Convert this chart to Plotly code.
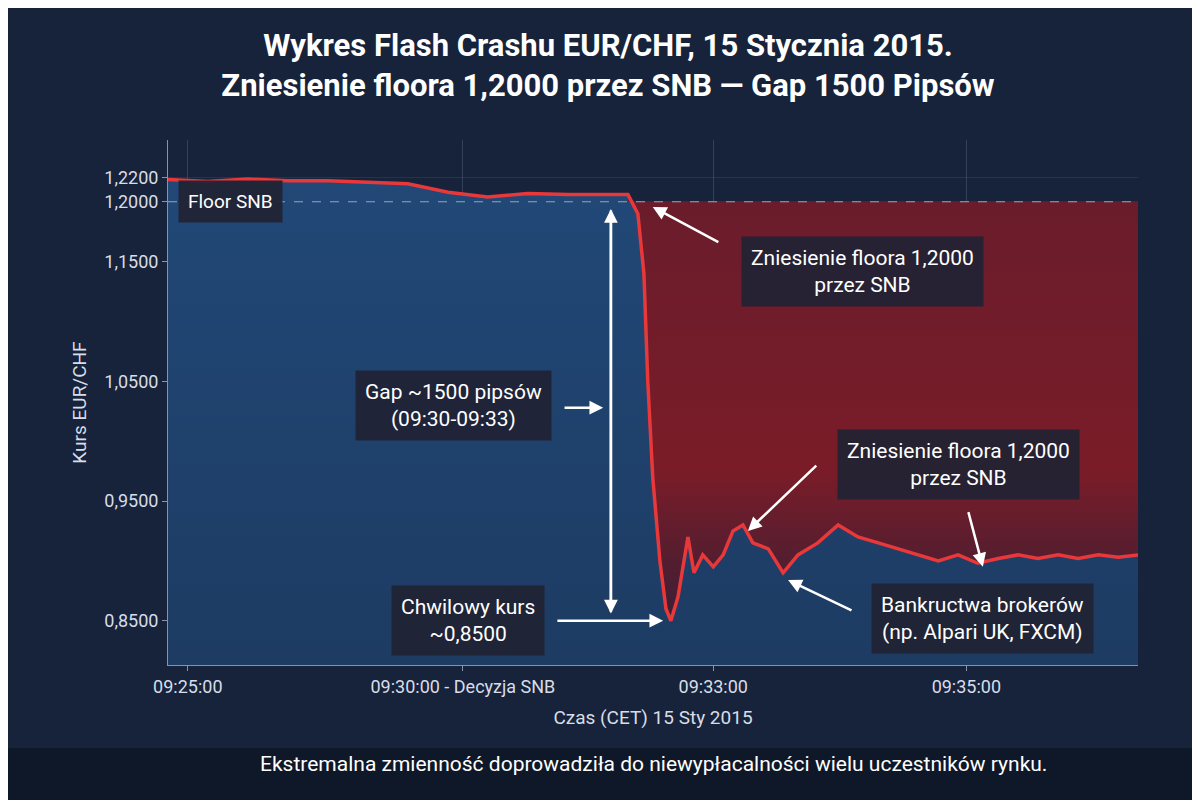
import plotly.graph_objects as go

# data: time in minutes after 09:25 (chart scale), EUR/CHF rate
t = [-0.36,0.36,1.09,1.82,2.55,3.27,4.0,4.73,5.45,6.18,6.91,7.64,8.0,8.18,8.29,8.36,8.45,8.58,8.69,8.78,8.91,9.09,9.2,9.36,9.55,9.73,9.91,10.09,10.27,10.55,10.82,11.09,11.45,11.82,12.18,12.55,12.91,13.27,13.64,14.0,14.36,14.73,15.09,15.45,15.82,16.18,16.55,16.91,17.27]
rate = [1.2185,1.217,1.219,1.2175,1.2175,1.216,1.215,1.208,1.204,1.207,1.206,1.206,1.206,1.19,1.14,1.05,0.97,0.90,0.86,0.85,0.87,0.92,0.89,0.905,0.895,0.905,0.925,0.93,0.915,0.91,0.89,0.905,0.915,0.93,0.92,0.915,0.91,0.905,0.90,0.905,0.898,0.902,0.905,0.902,0.905,0.902,0.905,0.903,0.905]
floor = 1.20
tick_pos = [0, 5, 9.55, 14.15]
tick_txt = ["09:25:00", "09:30:00 - Decyzja SNB", "09:33:00", "09:35:00"]
y_ticks = [1.22, 1.20, 1.15, 1.05, 0.95, 0.85]
y_txt = ["1,2200", "1,2000", "1,1500", "1,0500", "0,9500", "0,8500"]

BG = "#17233a"
fig = go.Figure()
fig.add_trace(go.Scatter(x=t, y=rate, mode="lines", line=dict(width=0), fill="tozeroy",
    fillgradient=dict(type="vertical", colorscale=[[0, "#15223a"], [1, "#214877"]]), hoverinfo="skip"))
ci = 12
fig.add_trace(go.Scatter(x=t[ci:], y=[floor]*len(t[ci:]), mode="lines", line=dict(width=0), hoverinfo="skip"))
fig.add_trace(go.Scatter(x=t[ci:], y=rate[ci:], mode="lines", line=dict(width=0), fill="tonexty",
    fillgradient=dict(type="vertical", colorscale=[[0, "#3a1f35"], [0.35, "#7a1c28"], [1, "#6a1c2c"]]), hoverinfo="skip"))
fig.add_trace(go.Scatter(x=t, y=rate, mode="lines", line=dict(color="#e8383a", width=3.5), hoverinfo="skip"))

fig.add_shape(type="line", xref="paper", x0=0, x1=1, y0=floor, y1=floor, line=dict(color="#9aa3b5", width=1, dash="dash"))
fig.add_shape(type="rect", xref="paper", yref="paper", x0=-0.5, x1=1.5, y0=-0.158, y1=-0.35, fillcolor="#0f1828", line_width=0, layer="below")

def box(x, y, txt, size=21):
    fig.add_annotation(x=x, y=y, text=txt, showarrow=False, font=dict(size=size, color="white", family="Roboto"),
                       bgcolor="rgba(32,34,52,0.93)", borderpad=9, align="center")

def arrow(x0, y0, x1, y1, both=False):
    fig.add_annotation(x=x1, y=y1, ax=x0, ay=y0, axref="x", ayref="y", text="", showarrow=True,
                       arrowhead=2, arrowsize=1.1, arrowwidth=2.5, arrowcolor="white")
    if both:
        fig.add_annotation(x=x0, y=y0, ax=x1, ay=y1, axref="x", ayref="y", text="", showarrow=True,
                           arrowhead=2, arrowsize=1.1, arrowwidth=2.5, arrowcolor="white")

box(0.78, 1.2, "Floor SNB", 19)
box(12.27, 1.1415, "Zniesienie floora 1,2000<br>przez SNB")
arrow(9.67, 1.1656, 8.45, 1.1957)
box(4.82, 1.0297, "Gap ~1500 pipsów<br>(09:30-09:33)")
arrow(6.82, 1.028, 7.55, 1.028)
arrow(7.69, 1.194, 7.69, 0.856, both=True)
box(5.09, 0.85, "Chwilowy kurs<br>~0,8500")
arrow(6.69, 0.85, 8.64, 0.85)
box(14.0, 0.9807, "Zniesienie floora 1,2000<br>przez SNB")
arrow(11.45, 0.9807, 10.18, 0.925)
arrow(14.18, 0.942, 14.45, 0.895)
box(14.45, 0.8517, "Bankructwa brokerów<br>(np. Alpari UK, FXCM)")
arrow(12.09, 0.858, 10.91, 0.884)

fig.add_annotation(xref="paper", yref="paper", x=0.5, y=-0.215, showarrow=False,
    text="Ekstremalna zmienność doprowadziła do niewypłacalności wielu uczestników rynku.",
    font=dict(size=21, color="white", family="Roboto"))

fig.update_layout(
    width=1200, height=800, paper_bgcolor=BG, plot_bgcolor=BG, showlegend=False,
    margin=dict(l=160, r=70, t=132, b=143),
    title=dict(text="<b>Wykres Flash Crashu EUR/CHF, 15 Stycznia 2015.<br>Zniesienie floora 1,2000 przez SNB — Gap 1500 Pipsów</b>",
               x=0.5, y=0.94, xanchor="center", yanchor="top", font=dict(size=31, color="white", family="Roboto")),
    font=dict(family="Roboto", color="#d8dde8", size=18),
    xaxis=dict(range=[-0.36, 17.27], tickvals=tick_pos, ticktext=tick_txt, showgrid=True, gridcolor="rgba(160,170,190,0.22)",
               showline=True, linecolor="#8a93a5", ticks="outside", ticklen=5, tickcolor="#8a93a5", zeroline=False,
               title=dict(text="Czas (CET) 15 Sty 2015", font=dict(size=19)), tickfont=dict(size=18)),
    yaxis=dict(range=[0.813, 1.2516], tickvals=y_ticks, ticktext=y_txt, showgrid=True, gridcolor="rgba(160,170,190,0.12)",
               showline=True, linecolor="#8a93a5",
               ticks="outside", ticklen=5, tickcolor="#8a93a5", zeroline=False,
               title=dict(text="Kurs EUR/CHF", font=dict(size=19), standoff=12), tickfont=dict(size=18)),
)
fig.write_html("out.html")
